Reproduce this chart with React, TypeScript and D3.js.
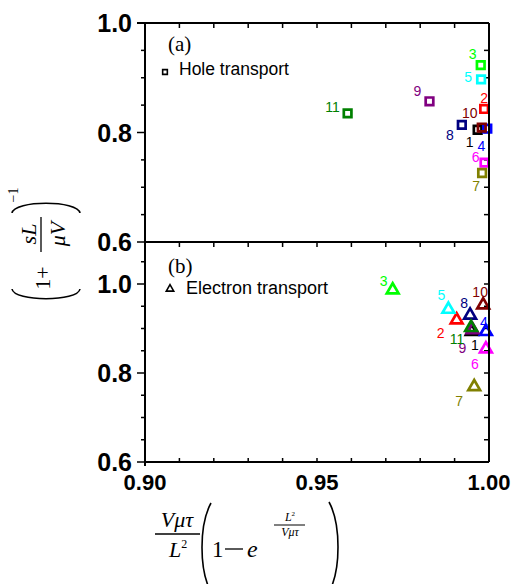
import React from 'react';
import * as d3 from 'd3';

// sample ids 1..11 and their Origin-style colours
const samples = ['1', '2', '3', '4', '5', '6', '7', '8', '9', '10', '11'];
const sampleColors = ['#000000', '#FF0000', '#00FF00', '#0000FF', '#00FFFF', '#FF00FF', '#808000', '#000080', '#800080', '#800000', '#008000'];

// (a) hole transport
const holeX = [0.9967, 0.9986, 0.9976, 0.9995, 0.9977, 0.9987, 0.998, 0.9921, 0.9827, 0.9979, 0.9589];
const holeY = [0.805, 0.843, 0.923, 0.807, 0.897, 0.745, 0.726, 0.814, 0.857, 0.809, 0.835];

// (b) electron transport
const elecX = [0.995, 0.9906, 0.972, 0.9991, 0.9882, 0.9991, 0.9957, 0.9945, 0.9952, 0.9983, 0.9948];
const elecY = [0.893, 0.919, 0.9865, 0.893, 0.943, 0.854, 0.769, 0.93, 0.897, 0.953, 0.902];

const xTickLabels = ['0.90', '0.95', '1.00'];
const yTickLabels = ['0.6', '0.8', '1.0'];

// label nudges (px) so numbers sit next to their markers
const holeLabelDx = [-8, 0, -8, -6, -13, -9, -6, -12, -12, -12, -15];
const holeLabelDy = [12, -11, -11, 17, -2, -6, 13, 10, -10, -15, -6];
const elecLabelDx = [3, -16, -9, -2, -7, -11, -15, -6, -10, -3, -14];
const elecLabelDy = [13, 13, -9, -10, -14, 15, 14, -12, 18, -13, 11];

const W = 519;
const H = 584;
const left = 145;
const right = 489;
const topA = 23;
const midY = 242;
const bottomB = 462;

const x = d3.scaleLinear().domain([0.9, 1.0]).range([left, right]);
const yA = d3.scaleLinear().domain([0.6, 1.0]).range([midY, topA]);
const yB = d3.scaleLinear().domain([0.6, 1.0]).range([bottomB, 284]);

const sans = '"Liberation Sans", Arial, Helvetica, sans-serif';
const serif = '"Liberation Serif", "Times New Roman", Times, serif';

const squarePath = d3.symbol(d3.symbolSquare, 58)() as string;
const triPath = d3.symbol(d3.symbolTriangle, 60)() as string;
const smallSquare = d3.symbol(d3.symbolSquare, 22)() as string;
const smallTri = d3.symbol(d3.symbolTriangle, 24)() as string;

const xMinor = d3.range(0.9, 1.0001, 0.01);

function Panel({ y, yTop, xs, ys, dx, dy, path, yMax }: any) {
  const minorY = d3.range(0.6, yMax + 0.0001, 0.05);
  const y0 = y(0.6);
  return (
    <g>
      {/* top edge ticks (inward) */}
      {xMinor.map((v, i) => (
        <line key={'t' + i} x1={x(v)} x2={x(v)} y1={yTop} y2={yTop + 5} stroke="#000" strokeWidth={1.5} />
      ))}
      {/* left axis ticks */}
      {minorY.map((v, i) => {
        const major = Math.abs(((v - 0.6) / 0.2) - Math.round((v - 0.6) / 0.2)) < 1e-6;
        return (
          <g key={'l' + i}>
            <line x1={left - (major ? 8 : 4)} x2={left} y1={y(v)} y2={y(v)} stroke="#000" strokeWidth={1.5} />
            <line x1={right - 5} x2={right} y1={y(v)} y2={y(v)} stroke="#000" strokeWidth={1.5} />
          </g>
        );
      })}
      {yTickLabels.map((t) => (
        <text key={t} x={132} y={y(+t)} textAnchor="end" dominantBaseline="central" fontFamily={sans} fontWeight="bold" fontSize={25}>
          {t}
        </text>
      ))}
      {xs.map((v: number, i: number) => (
        <g key={'m' + i}>
          <path d={path} transform={`translate(${x(v)},${y(ys[i])})`} fill="none" stroke={sampleColors[i]} strokeWidth={2.7} />
          <text x={x(v) + dx[i]} y={y(ys[i]) + dy[i]} textAnchor="middle" dominantBaseline="central" fontFamily={sans} fontSize={14} fill={sampleColors[i]}>
            {samples[i]}
          </text>
        </g>
      ))}
      <line x1={left} x2={right} y1={y0} y2={y0} stroke="#000" strokeWidth={2} />
    </g>
  );
}

export default function App() {
  return (
    <svg width={W} height={H} style={{ position: 'absolute', left: 0, top: 0, background: '#fff' }}>
      <rect x={0} y={0} width={W} height={H} fill="#fff" />
      <Panel y={yA} yTop={topA} xs={holeX} ys={holeY} dx={holeLabelDx} dy={holeLabelDy} path={squarePath} yMax={1.0} />
      <Panel y={yB} yTop={midY} xs={elecX} ys={elecY} dx={elecLabelDx} dy={elecLabelDy} path={triPath} yMax={1.09} />

      {/* frame */}
      <line x1={left} x2={left} y1={topA} y2={bottomB + 4} stroke="#000" strokeWidth={2} />
      <line x1={right} x2={right} y1={topA} y2={bottomB} stroke="#000" strokeWidth={2} />
      <line x1={left - 8} x2={right} y1={topA} y2={topA} stroke="#000" strokeWidth={2} />

      {/* bottom axis */}
      {xMinor.map((v, i) => (
        <line key={'b' + i} x1={x(v)} x2={x(v)} y1={bottomB} y2={bottomB - 4} stroke="#000" strokeWidth={1.5} />
      ))}
      {xTickLabels.map((t) => (
        <text key={t} x={x(+t)} y={482} textAnchor="middle" dominantBaseline="central" fontFamily={sans} fontWeight="bold" fontSize={22}>
          {t}
        </text>
      ))}

      {/* legends */}
      <text x={168} y={51} fontFamily={serif} fontSize={21}>(a)</text>
      <path d={smallSquare} transform="translate(165,72)" fill="none" stroke="#000" strokeWidth={1.6} />
      <text x={179} y={75} fontFamily={sans} fontSize={17.5}>Hole transport</text>
      <text x={168} y={273} fontFamily={serif} fontSize={21}>(b)</text>
      <path d={smallTri} transform="translate(170,289)" fill="none" stroke="#000" strokeWidth={1.6} />
      <text x={186} y={294} fontFamily={sans} fontSize={18}>Electron transport</text>

      {/* y label: (1 + sL/μV)^-1 */}
      <g fontFamily={serif} fill="#000">
        <path d="M12,289 C14,302 78,302 80,289" fill="none" stroke="#000" strokeWidth={1.6} />
        <path d="M12,213 C14,200 78,200 80,213" fill="none" stroke="#000" strokeWidth={1.6} />
        <text transform="translate(42,278) rotate(-90)" textAnchor="middle" dominantBaseline="central" fontSize={22}>1+</text>
        <text transform="translate(28,234) rotate(-90)" textAnchor="middle" dominantBaseline="central" fontSize={22} fontStyle="italic">sL</text>
        <line x1={41} x2={41} y1={217} y2={252} stroke="#000" strokeWidth={1.3} />
        <text transform="translate(57,234) rotate(-90)" textAnchor="middle" dominantBaseline="central" fontSize={22} fontStyle="italic">μV</text>
        <text transform="translate(13,195) rotate(-90)" textAnchor="middle" dominantBaseline="central" fontSize={14}>−1</text>
      </g>

      {/* x label: Vμτ/L² (1 − e^{L²/Vμτ}) */}
      <g fontFamily={serif} fill="#000">
        <text x={177} y={519} textAnchor="middle" dominantBaseline="central" fontSize={22} fontStyle="italic">Vμτ</text>
        <line x1={155} x2={200} y1={534} y2={534} stroke="#000" strokeWidth={1.3} />
        <text x={178} y={557} textAnchor="middle" fontSize={22} fontStyle="italic">L<tspan fontSize={12} dy={-9} fontStyle="normal">2</tspan></text>
        <path d="M211,503 C199,525 199,570 211,592" fill="none" stroke="#000" strokeWidth={1.6} />
        <path d="M329,502 C341,524 341,570 329,592" fill="none" stroke="#000" strokeWidth={1.6} />
        <text x={212} y={557} fontSize={23}>1</text>
        <line x1={225} x2={243} y1={549} y2={549} stroke="#000" strokeWidth={1.3} />
        <text x={247} y={557} fontSize={24} fontStyle="italic">e</text>
        <text x={290} y={521} textAnchor="middle" fontSize={12} fontStyle="italic">L<tspan fontSize={7} dy={-5} fontStyle="normal">2</tspan></text>
        <line x1={274} x2={305} y1={525} y2={525} stroke="#000" strokeWidth={1} />
        <text x={290} y={536} textAnchor="middle" fontSize={12} fontStyle="italic">Vμτ</text>
      </g>
    </svg>
  );
}
